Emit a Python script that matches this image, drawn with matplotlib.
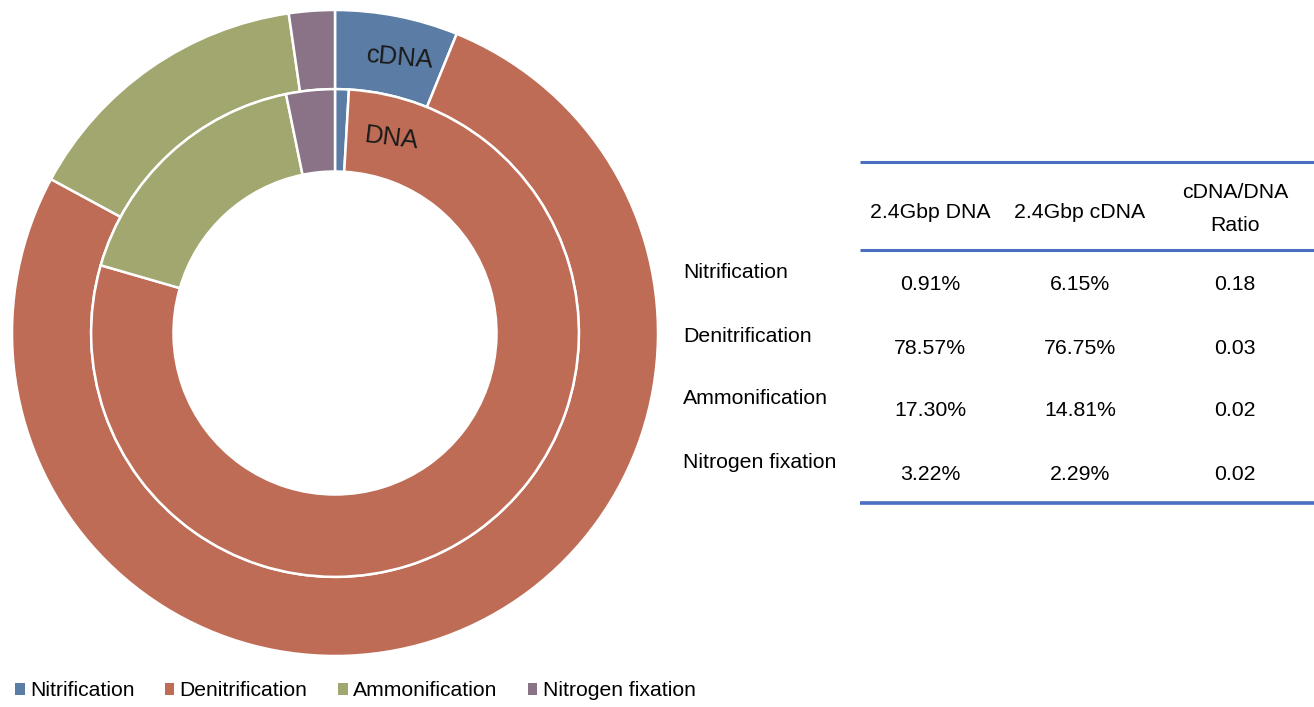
import matplotlib
matplotlib.use('Agg')
from matplotlib import pyplot as plt
from matplotlib.patches import Patch

plt.rcParams['font.family'] = ['Liberation Sans', 'DejaVu Sans']

# data
processes = ['Nitrification', 'Denitrification', 'Ammonification', 'Nitrogen fixation']
dna_pct = [0.91, 78.57, 17.30, 3.22]
cdna_pct = [6.15, 76.75, 14.81, 2.29]
ratio = [0.18, 0.03, 0.02, 0.02]
col_headers = ['2.4Gbp DNA', '2.4Gbp cDNA', 'cDNA/DNA\nRatio']
colors = ['#5B7DA5', '#BE6C56', '#A1A76F', '#8A7287']

W, H = 1314, 707
fig = plt.figure(figsize=(W / 100, H / 100), dpi=100)

# donut axes: centre (335, 333) px, radius 323 px
cx, cy, R = 335, 333, 323
ax = fig.add_axes([(cx - R) / W, (H - cy - R) / H, 2 * R / W, 2 * R / H])
wedge_kw = dict(edgecolor='white', linewidth=1.8)
ax.pie(cdna_pct, radius=1.0, colors=colors, startangle=90, counterclock=False,
       wedgeprops=dict(width=0.245, **wedge_kw))
ax.pie(dna_pct, radius=0.755, colors=colors, startangle=90, counterclock=False,
       wedgeprops=dict(width=0.255, **wedge_kw))
ax.set_xlim(-1, 1)
ax.set_ylim(-1, 1)
ax.set_aspect('equal')
ax.axis('off')

# overlay in pixel coords for text / table
ov = fig.add_axes([0, 0, 1, 1])
ov.set_xlim(0, W)
ov.set_ylim(H, 0)
ov.axis('off')
ov.patch.set_alpha(0)

ov.text(400, 58, 'cDNA', fontsize=18.5, ha='center', va='center', rotation=-5, color='#1a1a1a')
ov.text(392, 138, 'DNA', fontsize=18.5, ha='center', va='center', rotation=-7, color='#1a1a1a')

# table
line_c = '#4A6FC0'
for y in [162, 250]:
    ov.plot([860, W], [y, y], color=line_c, lw=2.2, solid_capstyle='butt')
ov.plot([860, W], [503, 503], color=line_c, lw=2.6, solid_capstyle='butt')

col_x = [930, 1080, 1235]
fs = 15.3
ov.text(col_x[0], 213, col_headers[0], fontsize=fs, ha='center', va='center')
ov.text(col_x[1], 213, col_headers[1], fontsize=fs, ha='center', va='center')
ov.text(col_x[2], 209, col_headers[2], fontsize=fs, ha='center', va='center', linespacing=1.9)

row_label_y = [272, 336, 399, 462]
row_val_y = [284, 348, 411, 474]
for i, name in enumerate(processes):
    ov.text(683, row_label_y[i], name, fontsize=fs, ha='left', va='center')
    ov.text(col_x[0], row_val_y[i], f'{dna_pct[i]:.2f}%', fontsize=fs, ha='center', va='center')
    ov.text(col_x[1], row_val_y[i], f'{cdna_pct[i]:.2f}%', fontsize=fs, ha='center', va='center')
    ov.text(col_x[2], row_val_y[i], f'{ratio[i]:.2f}', fontsize=fs, ha='center', va='center')

# legend
handles = [Patch(facecolor=c, edgecolor='none', label=n) for c, n in zip(colors, processes)]
fig.legend(handles=handles, loc='center left', bbox_to_anchor=(15 / W, 1 - 691 / H),
           ncol=4, frameon=False, fontsize=15.2, handlelength=0.45, handleheight=0.45,
           handletextpad=0.25, columnspacing=1.45, borderaxespad=0, borderpad=0)

fig.savefig('out.png', dpi=100)
